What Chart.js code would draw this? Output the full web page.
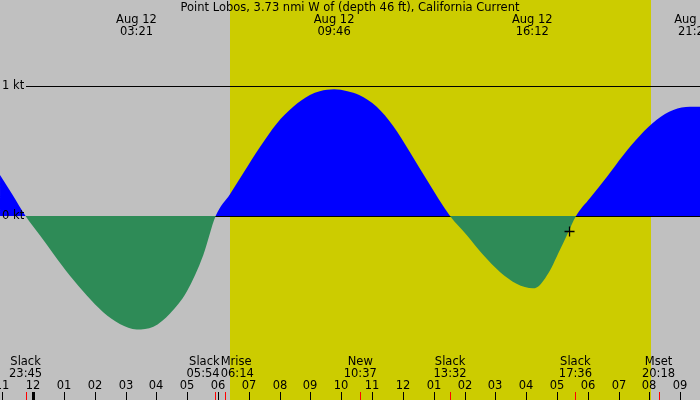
<!DOCTYPE html>
<html>
<head>
<meta charset="utf-8">
<script src="https://cdn.jsdelivr.net/npm/chart.js@4.4.1/dist/chart.umd.min.js"></script>
<style>
  body { margin: 0; background: #c0c0c0; }
  #wrap { width: 700px; height: 400px; }
</style>
</head>
<body>
<div id="wrap"><canvas id="chart" width="700" height="400"></canvas></div>
<script>
// hours from Aug 12 00:00, current speed in knots (flood +, ebb -)
const hours = [-1.08, -0.69, -0.25, 0.22, 0.65, 1.19, 1.73, 2.27, 2.81, 3.36, 3.90, 4.44, 4.98, 5.52, 5.92,
  6.39, 6.82, 7.36, 7.90, 8.44, 8.98, 9.30, 9.77, 10.20, 10.58, 11.15, 11.69, 12.23, 12.77, 13.53,
  14.07, 14.61, 15.15, 15.69, 16.23, 16.45, 16.67, 16.88, 17.10, 17.32, 17.62,
  18.07, 18.62, 19.16, 19.70, 20.24, 20.78, 21.32, 21.65];
const speeds = [0.315, 0.17, 0, -0.15, -0.29, -0.46, -0.61, -0.74, -0.83, -0.872, -0.851, -0.749, -0.582, -0.30, 0,
  0.17, 0.33, 0.53, 0.71, 0.84, 0.93, 0.96, 0.975, 0.96, 0.93, 0.84, 0.69, 0.49, 0.28, 0,
  -0.146, -0.30, -0.43, -0.52, -0.556, -0.53, -0.46, -0.37, -0.26, -0.15, 0,
  0.136, 0.30, 0.47, 0.62, 0.74, 0.815, 0.84, 0.84];

const maxHours = [3.35, 9.767, 16.2, 21.47];
const maxLabels = ["03:21", "09:46", "16:12", "21:28"];

const eventHours = [-0.25, 5.9, 6.233, 10.617, 13.533, 17.6, 20.3];
const eventNames = ["Slack", "Slack", "Mrise", "New", "Slack", "Slack", "Mset"];
const eventTimes = ["23:45", "05:54", "06:14", "10:37", "13:32", "17:36", "20:18"];

const tickHours = [-1, 0, 1, 2, 3, 4, 5, 6, 7, 8, 9, 10, 11, 12, 13, 14, 15, 16, 17, 18, 19, 20, 21];
const tickLabels = ["11", "12", "01", "02", "03", "04", "05", "06", "07", "08", "09", "10",
  "11", "12", "01", "02", "03", "04", "05", "06", "07", "08", "09"];

const sunrise = 6.386;
const sunset = 20.05;
const nowPoint = [{ x: 17.41, y: -0.119 }];

const FONT = "11.5px 'DejaVu Sans'";

const backdrop = {
  id: "backdrop",
  beforeDraw(chart) {
    const { ctx, scales: { x } } = chart;
    ctx.save();
    ctx.fillStyle = "#c0c0c0";
    ctx.fillRect(0, 0, chart.width, chart.height);
    ctx.fillStyle = "#cccc00";
    const x0 = Math.round(x.getPixelForValue(sunrise));
    const x1 = Math.round(x.getPixelForValue(sunset));
    ctx.fillRect(x0, 0, x1 - x0, chart.height);
    ctx.restore();
  },
  beforeDatasetsDraw(chart) {
    const { ctx, scales: { y } } = chart;
    ctx.save();
    ctx.strokeStyle = "#000";
    ctx.lineWidth = 1;
    [1, 0].forEach(v => {
      const py = Math.round(y.getPixelForValue(v)) + 0.5;
      ctx.beginPath();
      ctx.moveTo(26, py);
      ctx.lineTo(chart.width, py);
      ctx.stroke();
    });
    ctx.restore();
  },
  afterDraw(chart) {
    const { ctx, scales: { x, y } } = chart;
    ctx.save();
    ctx.font = FONT;
    ctx.fillStyle = "#000";
    ctx.textBaseline = "middle";

    ctx.textAlign = "center";
    ctx.fillText("Point Lobos, 3.73 nmi W of (depth 46 ft), California Current", 350, 8);

    maxHours.forEach((h, i) => {
      const px = x.getPixelForValue(h);
      ctx.fillText("Aug 12", px, 20);
      ctx.fillText(maxLabels[i], px, 32);
    });

    ctx.textAlign = "left";
    ctx.fillText("1 kt", 2, y.getPixelForValue(1));
    ctx.fillText("0 kt", 2, y.getPixelForValue(0));

    // event labels, pushed apart where they would overlap
    const pos = eventHours.map((h, i) => {
      const w = Math.max(ctx.measureText(eventNames[i]).width, ctx.measureText(eventTimes[i]).width);
      return { px: x.getPixelForValue(h), w: w, align: "center" };
    });
    for (let i = 0; i < pos.length - 1; i++) {
      const a = pos[i], b = pos[i + 1];
      if (a.px + a.w / 2 > b.px - b.w / 2) {
        const mid = (a.px + b.px) / 2;
        a.px = mid - 0.5; a.align = "right";
        b.px = mid + 0.5; b.align = "left";
      }
    }
    pos.forEach((p, i) => {
      ctx.textAlign = p.align;
      ctx.fillText(eventNames[i], p.px, 362);
      ctx.fillText(eventTimes[i], p.px, 374);
    });

    ctx.textAlign = "center";
    tickHours.forEach((h, i) => {
      const px = Math.round(x.getPixelForValue(h));
      ctx.fillText(tickLabels[i], px, 386);
      ctx.fillRect(h === 0 ? px - 1 : px, 392, h === 0 ? 3 : 1, 8);
    });

    ctx.fillStyle = "#ff0000";
    eventHours.forEach(h => {
      const px = Math.round(x.getPixelForValue(h));
      ctx.fillRect(px, 392, 1, 8);
    });
    ctx.restore();
  }
};

new Chart(document.getElementById("chart"), {
  type: "line",
  data: {
    datasets: [{
      data: hours.map((h, i) => ({ x: h, y: speeds[i] })),
      order: 2,
      borderWidth: 0,
      borderColor: "rgba(0,0,0,0)",
      pointRadius: 0,
      cubicInterpolationMode: "monotone",
      fill: { target: "origin", above: "#0000ff", below: "#2e8b57" }
    }, {
      type: "scatter",
      data: nowPoint,
      order: 1,
      pointStyle: "cross",
      pointRadius: 5,
      pointHoverRadius: 5,
      borderColor: "#000",
      backgroundColor: "#000",
      borderWidth: 1.3
    }]
  },
  options: {
    responsive: false,
    animation: false,
    devicePixelRatio: 1,
    layout: { padding: 0, autoPadding: false },
    plugins: { legend: { display: false }, tooltip: { enabled: false } },
    scales: {
      x: { type: "linear", min: -1.081, max: 21.646, display: false },
      y: { min: -1.415, max: 1.6615, display: false }
    }
  },
  plugins: [backdrop]
});
</script>
</body>
</html>
